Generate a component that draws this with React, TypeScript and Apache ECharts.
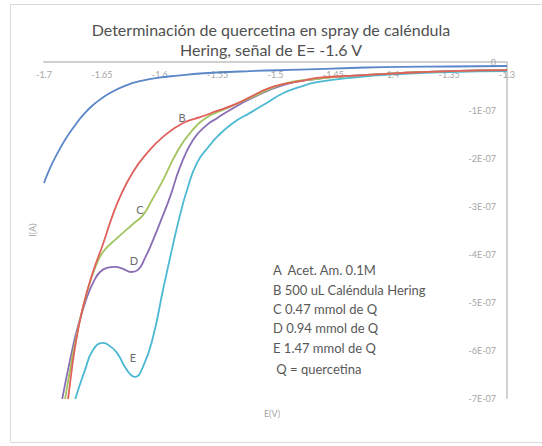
import { useEffect, useRef } from 'react';
import * as echarts from 'echarts';

// E (V) vs I (units of 1E-07 A)
const xTicks = [-1.7, -1.65, -1.6, -1.55, -1.5, -1.45, -1.4, -1.35, -1.3];
const yTicks = [0, -1, -2, -3, -4, -5, -6, -7];

const curveA: [number, number][] = [
  [-1.7, -2.52], [-1.6948, -2.21], [-1.6888, -1.92], [-1.6819, -1.625], [-1.6749, -1.375],
  [-1.6646, -1.06], [-1.6542, -0.83], [-1.643, -0.646], [-1.6283, -0.48], [-1.6171, -0.4],
  [-1.6024, -0.33], [-1.5825, -0.28], [-1.5652, -0.24], [-1.522, -0.19], [-1.4788, -0.16],
  [-1.4356, -0.125], [-1.3924, -0.1], [-1.3492, -0.094], [-1.3, -0.083],
];

const curveB: [number, number][] = [
  [-1.6827, -7.67], [-1.6793, -7.04], [-1.6732, -5.94], [-1.6663, -5.1], [-1.6577, -4.375],
  [-1.649, -3.79], [-1.6421, -3.29], [-1.6343, -2.81], [-1.6231, -2.29], [-1.611, -1.9],
  [-1.5972, -1.56], [-1.5799, -1.27], [-1.5652, -1.15], [-1.5505, -1.02], [-1.5367, -0.9],
  [-1.522, -0.73], [-1.5073, -0.56], [-1.4935, -0.46], [-1.4788, -0.4], [-1.4641, -0.33],
  [-1.4356, -0.29], [-1.3924, -0.23], [-1.3492, -0.19], [-1.3, -0.17],
];

const curveC: [number, number][] = [
  [-1.6844, -7.46], [-1.6819, -7.04], [-1.6715, -5.65], [-1.6629, -4.81], [-1.6559, -4.29],
  [-1.649, -3.96], [-1.6369, -3.67], [-1.6231, -3.375], [-1.6145, -3.19], [-1.6067, -2.875],
  [-1.5972, -2.46], [-1.5851, -1.875], [-1.5739, -1.48], [-1.5592, -1.15], [-1.5454, -1.0],
  [-1.522, -0.75], [-1.4935, -0.46], [-1.4641, -0.35], [-1.4356, -0.29], [-1.3924, -0.23],
  [-1.3492, -0.19], [-1.3, -0.17],
];

const curveD: [number, number][] = [
  [-1.6879, -7.56], [-1.6844, -7.04], [-1.6775, -6.21], [-1.6715, -5.58], [-1.6629, -4.9],
  [-1.6568, -4.56], [-1.6516, -4.375], [-1.6456, -4.29], [-1.6387, -4.27], [-1.6318, -4.31],
  [-1.6248, -4.375], [-1.6188, -4.33], [-1.6127, -4.08], [-1.6058, -3.71], [-1.5998, -3.35],
  [-1.5911, -2.81], [-1.5825, -2.19], [-1.5713, -1.625], [-1.5592, -1.31], [-1.5505, -1.17],
  [-1.5393, -1.0], [-1.522, -0.77], [-1.4935, -0.48], [-1.4641, -0.35], [-1.4356, -0.29],
  [-1.3924, -0.23], [-1.3492, -0.19], [-1.3, -0.17],
];

const curveE: [number, number][] = [
  [-1.6775, -7.46], [-1.6732, -7.04], [-1.6646, -6.42], [-1.6577, -6.0], [-1.649, -5.85],
  [-1.643, -5.92], [-1.6369, -6.06], [-1.6283, -6.42], [-1.6214, -6.56], [-1.6145, -6.35],
  [-1.6058, -5.73], [-1.5972, -4.75], [-1.5886, -3.81], [-1.5825, -3.19], [-1.5765, -2.67],
  [-1.5678, -2.1], [-1.5566, -1.73], [-1.5505, -1.56], [-1.5367, -1.27], [-1.522, -1.06],
  [-1.5073, -0.85], [-1.4935, -0.65], [-1.4788, -0.52], [-1.4641, -0.42], [-1.4356, -0.33],
  [-1.3924, -0.25], [-1.3492, -0.21], [-1.3, -0.19],
];

const seriesNames = ['A', 'B', 'C', 'D', 'E'];
const notes = [
  'A  Acet. Am. 0.1M',
  'B 500 uL Caléndula Hering',
  'C 0.47 mmol de Q',
  'D 0.94 mmol de Q',
  'E 1.47 mmol de Q',
  ' Q = quercetina',
];

const colors = ['#5b87c9', '#e0605c', '#a3c45e', '#8a6db5', '#4cb9d2'];
const FONT = 'Lato, "Open Sans", sans-serif';

export default function App() {
  const ref = useRef<HTMLDivElement>(null);
  useEffect(() => {
    if (!ref.current) return;
    const chart = echarts.init(ref.current, undefined, { renderer: 'svg' });
    const data = [curveA, curveB, curveC, curveD, curveE];
    const noteY = [270, 290, 309, 328, 348, 369];
    const letterPos: [string, number, number][] = [
      ['B', 182, 117], ['C', 140, 209], ['D', 134, 260], ['E', 133, 357],
    ];
    chart.setOption({
      animation: false,
      backgroundColor: '#ffffff',
      textStyle: { fontFamily: FONT },
      title: {
        text: 'Determinación de quercetina en spray de caléndula\nHering, señal de E= -1.6 V',
        left: 'center',
        top: 14,
        textStyle: { fontFamily: FONT, fontSize: 16, fontWeight: 'normal', color: '#505050', lineHeight: 20 },
      },
      grid: { left: 44, right: 35, top: 62, bottom: 48, containLabel: false },
      xAxis: {
        type: 'value',
        position: 'top',
        min: -1.7,
        max: -1.3,
        interval: 0.05,
        axisLine: { onZero: false, lineStyle: { color: '#d0d0d0', width: 2 } },
        axisTick: { show: false },
        splitLine: { show: false },
        axisLabel: {
          inside: true,
          margin: 8,
          fontSize: 9,
          color: '#a6a6a6',
          fontFamily: FONT,
          showMinLabel: true,
          showMaxLabel: true,
          formatter: (v: number) => {
            const t = xTicks.find((x) => Math.abs(x - v) < 1e-6);
            return t === undefined ? '' : String(t);
          },
        },
      },
      yAxis: {
        type: 'value',
        position: 'right',
        min: -7,
        max: 0,
        interval: 1,
        axisLine: { onZero: false, lineStyle: { color: '#d0d0d0', width: 2 } },
        axisTick: { show: false },
        splitLine: { show: false },
        axisLabel: {
          inside: true,
          margin: 11,
          fontSize: 9,
          color: '#a6a6a6',
          fontFamily: FONT,
          formatter: (v: number) => {
            const t = yTicks.find((y) => Math.abs(y - v) < 1e-6);
            if (t === undefined) return '';
            return t === 0 ? '0' : `-${-t}E-07`;
          },
        },
      },
      series: data.map((d, i) => ({
        name: seriesNames[i],
        type: 'line',
        data: d,
        smooth: 0.5,
        showSymbol: false,
        symbol: 'none',
        clip: true,
        lineStyle: { color: colors[i], width: 1.8 },
        z: 5 - i,
      })),
      graphic: [
        {
          type: 'rect',
          silent: true,
          shape: { x: 10.5, y: 4.5, width: 540, height: 438 },
          style: { fill: 'none', stroke: '#d9d9d9', lineWidth: 1 },
        },
        {
          type: 'text',
          x: 32,
          y: 230,
          rotation: Math.PI / 2,
          style: { text: 'I(A)', fontSize: 9, fill: '#a6a6a6', fontFamily: FONT, align: 'center', verticalAlign: 'middle' },
        },
        {
          type: 'text',
          x: 272,
          y: 413,
          style: { text: 'E(V)', fontSize: 9, fill: '#a6a6a6', fontFamily: FONT, align: 'center', verticalAlign: 'middle' },
        },
        ...letterPos.map(([t, x, y]) => ({
          type: 'text',
          x,
          y,
          style: { text: t, fontSize: 11, fill: '#6b6b6b', fontFamily: FONT, align: 'center', verticalAlign: 'middle' },
        })),
        ...notes.map((t, i) => ({
          type: 'text',
          x: 273,
          y: noteY[i],
          style: { text: t, fontSize: 13, fill: '#595959', fontFamily: FONT, align: 'left', verticalAlign: 'middle' },
        })),
      ],
    });
    return () => chart.dispose();
  }, []);
  return (
    <div
      ref={ref}
      style={{ position: 'fixed', left: 0, top: 0, width: 542, height: 446, background: '#fff' }}
    />
  );
}
